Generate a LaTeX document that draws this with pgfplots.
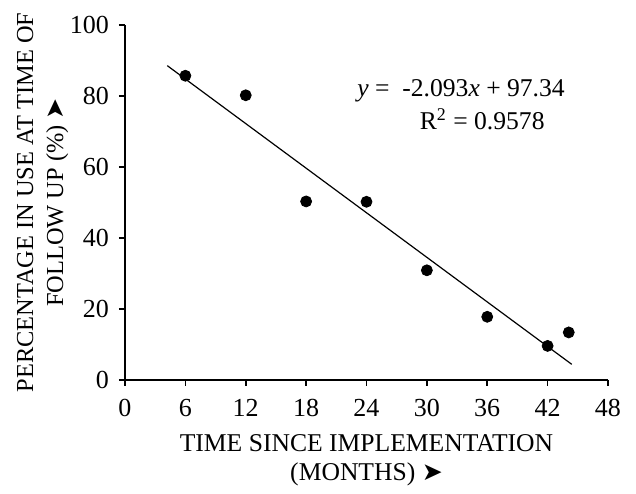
\documentclass[border=0pt]{standalone}
\usepackage{pgfplots}
\pgfplotsset{compat=1.18}
\usepackage{fontspec}
\setmainfont{Liberation Serif}
\newfontfamily\arrowfont{DejaVu Sans}
\newcommand{\arr}{{\arrowfont\fontsize{12.5}{12}\selectfont ➤}}

\begin{document}
\begin{tikzpicture}
  \begin{axis}[
      scale only axis,
      width=241.5pt, height=177.5pt,
      xmin=0, xmax=48, ymin=0, ymax=100,
      axis lines*=left,
      xtick={0,6,...,48},
      ytick={0,20,...,100},
      tick align=outside,
      major tick length=3pt,
      axis line style={black, line width=0.8pt},
      tick style={black, line width=0.8pt},
      /pgf/number format/assume math mode=true,
      tick label style={font=\fontsize{13}{14}\selectfont},
      xticklabel style={yshift=-3.3pt},
      yticklabel style={xshift=-1.5pt},
      xlabel={TIME SINCE IMPLEMENTATION\\(MONTHS) \arr},
      ylabel={PERCENTAGE IN USE AT TIME OF\\FOLLOW UP (\%) \arr},
      xlabel style={font=\fontsize{12.8}{14.5}\selectfont, align=center, yshift=-2pt},
      ylabel style={font=\fontsize{12.2}{15}\selectfont, align=center, yshift=-6pt},
      clip=false,
    ]
    \addplot[only marks, mark=*, mark size=2.75pt, black] coordinates {
      (6,85.7) (12,80.2) (18,50.3) (24,50.2) (30,30.9) (36,17.8) (42,9.6) (44.1,13.4)
    };
    \addplot[black, line width=0.6pt] coordinates {(4.2,88.55) (44.4,4.41)};
    \node[font=\fontsize{12.8}{14}\selectfont] at (axis cs:33.4,81.4) {\(\mathit{y}\) =\ \ -2.093\textit{x} + 97.34};
    \node[font=\fontsize{12.8}{14}\selectfont] at (axis cs:35.5,73.4) {R\textsuperscript{2} = 0.9578};
    % page margins as in the reference
    \path (rel axis cs:0,0) ++(-62.5pt,-51.5pt) coordinate (padsw);
    \path (rel axis cs:1,1) ++(14pt,12.5pt) coordinate (padne);
    \path (padsw) rectangle (padne);
  \end{axis}
\end{tikzpicture}
\end{document}
